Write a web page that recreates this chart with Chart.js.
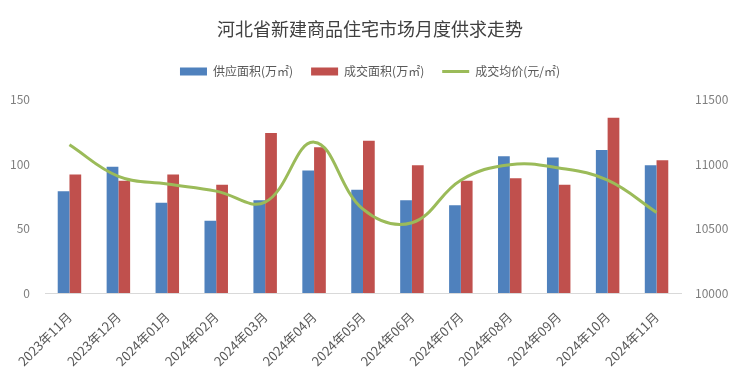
<!DOCTYPE html>
<html>
<head>
<meta charset="utf-8">
<script src="https://cdn.jsdelivr.net/npm/chart.js@4"></script>
<style>
html,body{margin:0;padding:0;background:#fff;}
#wrap{width:740px;height:379px;position:relative;}
</style>
</head>
<body>
<div id="wrap"><canvas id="c" width="740" height="379"></canvas></div>
<script>
const categories = ['2023年11月','2023年12月','2024年01月','2024年02月','2024年03月','2024年04月','2024年05月','2024年06月','2024年07月','2024年08月','2024年09月','2024年10月','2024年11月'];
const supplyArea = [79, 98, 70, 56, 72, 95, 80, 72, 68, 106, 105, 111, 99];
const dealArea = [92, 87, 92, 84, 124, 113, 118, 99, 87, 89, 84, 136, 103];
const avgPrice = [11150, 10905, 10845, 10790, 10705, 11170, 10650, 10545, 10875, 10995, 10970, 10875, 10625];
const leftTicks = [0, 50, 100, 150];
const rightTicks = [10000, 10500, 11000, 11500];

const FONT = '"Noto Sans CJK SC", "Noto Sans", sans-serif';
const legendMargin = {
  id: 'legendMargin',
  beforeInit(chart) {
    const fit = chart.legend.fit;
    chart.legend.fit = function () { fit.bind(chart.legend)(); this.height += 12; };
  }
};

new Chart(document.getElementById('c'), {
  data: {
    labels: categories,
    datasets: [
      { type: 'bar', label: '供应面积(万㎡)', data: supplyArea, backgroundColor: '#4F81BD', yAxisID: 'y', barPercentage: 1, categoryPercentage: 0.48, pointStyle: 'rect', order: 1 },
      { type: 'bar', label: '成交面积(万㎡)', data: dealArea, backgroundColor: '#C0504D', yAxisID: 'y', barPercentage: 1, categoryPercentage: 0.48, pointStyle: 'rect', order: 1 },
      { type: 'line', label: '成交均价(元/㎡)', data: avgPrice, borderColor: '#9BBB59', backgroundColor: '#9BBB59', borderWidth: 3, pointRadius: 0, tension: 0.4, yAxisID: 'y1', pointStyle: 'line', order: 0 }
    ]
  },
  options: {
    responsive: false,
    animation: false,
    layout: { padding: { left: 0, right: 0, top: 0, bottom: 0 } },
    plugins: {
      title: { display: true, text: '河北省新建商品住宅市场月度供求走势', color: '#404040', font: { family: FONT, size: 18, weight: 'normal' }, padding: { top: 18, bottom: 8 } },
      legend: {
        position: 'top',
        labels: {
          usePointStyle: true, pointStyleWidth: 27, boxHeight: 8,
          color: '#595959', font: { family: FONT, size: 12 }, padding: 18,
          sort: (a, b) => a.datasetIndex - b.datasetIndex
        }
      },
      tooltip: { enabled: false }
    },
    scales: {
      x: {
        afterFit: (s) => { s.height = 86; },
        grid: { display: false },
        border: { display: true, color: '#d9d9d9', width: 1 },
        ticks: { color: '#595959', font: { family: FONT, size: 13 }, maxRotation: 45, minRotation: 45, padding: 8 }
      },
      y: {
        position: 'left', min: 0, max: 150,
        afterBuildTicks: (s) => { s.ticks = leftTicks.map(v => ({ value: v })); },
        afterFit: (s) => { s.width = 45; },
        grid: { display: false, drawTicks: false },
        border: { display: false },
        ticks: { color: '#7f7f7f', font: { family: FONT, size: 12 }, padding: 15, callback: (v) => String(v) }
      },
      y1: {
        position: 'right', min: 10000, max: 11500,
        afterBuildTicks: (s) => { s.ticks = rightTicks.map(v => ({ value: v })); },
        afterFit: (s) => { s.width = 59; },
        grid: { display: false, drawTicks: false },
        border: { display: false },
        ticks: { color: '#7f7f7f', font: { family: FONT, size: 12 }, padding: 14, callback: (v) => String(v) }
      }
    }
  },
  plugins: [legendMargin]
});
</script>
</body>
</html>
